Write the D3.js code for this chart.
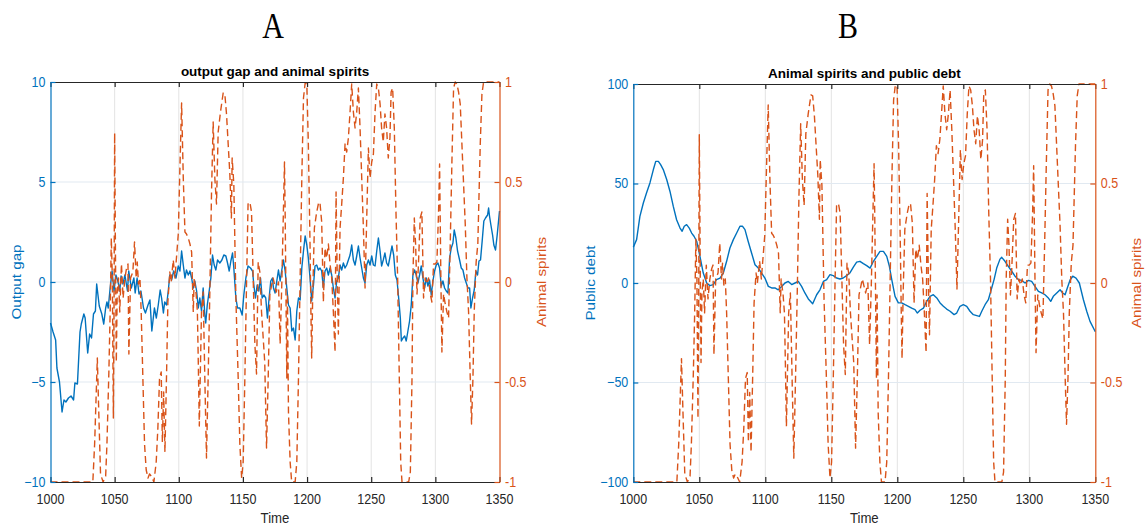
<!DOCTYPE html>
<html>
<head>
<meta charset="utf-8">
<script src="https://cdn.jsdelivr.net/npm/d3@7"></script>
<style>
  body { margin: 0; background: #fff; }
  svg { display: block; }
</style>
</head>
<body>
<svg id="chart" width="1146" height="525"></svg>
<script>
// ---- data -------------------------------------------------------------
const timeTicks = [1000, 1050, 1100, 1150, 1200, 1250, 1300, 1350];
const gapTicks = [-10, -5, 0, 5, 10];
const debtTicks = [-100, -50, 0, 50, 100];
const spiritTicks = [-1, -0.5, 0, 0.5, 1];
const spiritTickLabels = ["-1", "-0.5", "0", "0.5", "1"];

// [time, output gap]
const outputGap = [
  [1000,-2.05],[1002,-2.5],[1004,-2.9],[1005,-4.3],[1007,-5.0],[1009,-6.5],[1010.5,-5.9],[1012,-6.0],
  [1014,-5.8],[1016,-5.7],[1018,-5.9],[1019,-5.05],[1021,-5.1],[1023,-2.5],[1024,-2.1],[1026,-1.6],
  [1027,-1.8],[1029,-3.55],[1030.5,-2.6],[1032,-2.8],[1033.5,-1.6],[1035,-1.45],[1036,-0.1],[1038,-1.2],
  [1040,-1.6],[1041.5,-2.1],[1043,-1.3],[1044,-1.0],[1045,-1.3],[1046.5,-0.3],[1048,0.55],[1049.5,-0.45],
  [1051,0.35],[1052.5,0.05],[1054,-0.45],[1055,0.3],[1056.5,-0.1],[1058,0.35],[1060,-0.45],[1061,0.55],
  [1063,-0.3],[1065,0.2],[1066,-0.55],[1067.5,0.2],[1069,-0.6],[1070.5,-0.45],[1072.5,-1.3],[1074,-1.55],
  [1076,-1.15],[1077.5,-0.9],[1079,-2.45],[1081,-1.3],[1082.5,-1.8],[1084,-1.15],[1085.5,-0.4],[1086.6,-0.8],
  [1088,-1.55],[1089,-1.0],[1090.5,-1.15],[1091.8,-0.45],[1093,0.35],[1094.4,0.1],[1096,0.55],[1097.8,0.2],
  [1099.6,0.8],[1100.9,0.55],[1102.2,1.55],[1103.5,0.85],[1104.8,0.2],[1106,0.6],[1107.4,0.35],[1108.7,0.55],
  [1110,0.2],[1111.3,-0.3],[1112.5,0.05],[1113.9,-0.45],[1115.2,-1.3],[1116.4,-0.8],[1117.7,-1.45],[1119,-0.3],
  [1120.3,-1.65],[1121,-2.05],[1122.2,-1.15],[1123.7,-0.45],[1125,0.2],[1126.3,1.35],[1127.6,0.85],[1128.9,0.6],
  [1130.2,1.1],[1132,0.95],[1133.6,1.1],[1135.1,1.35],[1136.7,1.3],[1138,0.95],[1139.3,0.55],[1140.6,1.05],
  [1141.9,1.45],[1142.9,0.7],[1144.5,-0.8],[1145.8,-1.3],[1147.6,-1.3],[1149.4,-1.65],[1150.7,-0.65],[1152.3,0.2],
  [1154,0.8],[1155.9,0.7],[1157.5,0.55],[1158.5,-0.15],[1159.8,-0.8],[1161.1,-0.15],[1162.4,-0.45],[1163.7,0.2],
  [1165,-0.8],[1166.3,-0.65],[1167.8,-0.8],[1169.1,-1.8],[1170.4,-0.8],[1171.7,0.05],[1173,0.2],[1173.8,-0.3],
  [1175.1,-0.55],[1176.4,0.05],[1177.7,0.6],[1179,0.05],[1180.3,0.6],[1181.6,1.1],[1182.9,0.55],[1184.2,-0.3],
  [1185.5,-1.15],[1186.8,-1.3],[1188.1,-2.45],[1189.4,-2.3],[1190.7,-2.9],[1192,-1.45],[1193.3,-0.8],[1194.6,-0.9],
  [1195.9,0.7],[1197.2,1.55],[1198.5,2.3],[1199.8,1.85],[1201,1.2],[1202.3,0.2],[1203.6,-0.95],[1205,-0.15],
  [1206.2,0.8],[1207.5,0.85],[1208.8,0.6],[1210.1,0.7],[1211.4,0.55],[1212.7,-0.3],[1214,0.55],[1215.3,0.7],
  [1216.6,0.35],[1217.9,0.7],[1219.2,0.35],[1220.5,-0.3],[1221.8,-0.8],[1223.1,0.05],[1224.4,0.2],[1225.7,0.85],
  [1227,0.6],[1228.3,0.95],[1229.6,0.7],[1230.9,0.85],[1232.2,1.1],[1233.5,1.35],[1234.8,1.85],[1236.1,1.1],
  [1237.4,0.85],[1238.7,1.3],[1240,1.8],[1241.3,1.2],[1242.6,0.7],[1243.9,0.2],[1245.2,-0.05],[1246.5,0.85],
  [1247.8,1.1],[1249.1,0.85],[1250.4,1.3],[1251.7,0.85],[1253,0.8],[1254.3,1.55],[1255.6,2.2],[1256.9,1.55],
  [1258.1,0.8],[1259.4,1.1],[1260.7,1.45],[1262,0.95],[1263.3,0.8],[1264.9,1.35],[1266.2,1.8],[1267.5,1.35],
  [1268.8,0.35],[1270.1,0.1],[1271.4,-0.8],[1272.7,-1.8],[1273.5,-2.95],[1274.8,-2.8],[1276.1,-2.7],[1277.3,-2.95],
  [1278.6,-2.45],[1279.9,-1.95],[1281.2,-1.15],[1282.5,0.35],[1283.8,0.6],[1285.1,0.35],[1286.4,-0.05],[1287.7,0.35],
  [1289,0.8],[1290.3,0.2],[1291.6,-0.3],[1292.9,0.2],[1294.2,-0.2],[1295.5,0.1],[1296.8,-0.65],[1298.1,0.05],
  [1299.4,0.55],[1300.7,0.85],[1302,0.95],[1303.3,0.7],[1304.6,-0.2],[1305.9,0.05],[1307.2,-0.3],[1308.5,-0.45],
  [1309.8,-0.55],[1311.1,1.2],[1312.4,1.7],[1313.7,1.95],[1314.7,2.6],[1316,2.2],[1317.3,1.55],[1318.9,1.1],
  [1320.2,0.7],[1321.5,0.6],[1322.8,0.2],[1324.1,-0.05],[1325.4,-0.3],[1326.7,-0.3],[1327.7,-1.3],[1329,-0.8],
  [1330.3,-0.4],[1331.6,0.55],[1332.9,0.35],[1334,1.05],[1335.2,1.1],[1336.5,2.05],[1337.8,3.05],[1339.1,3.2],
  [1340.7,3.35],[1341.5,3.7],[1342.2,3.3],[1343.3,2.85],[1344.6,2.35],[1345.6,1.85],[1346.9,1.6],[1348.2,2.35],
  [1350,3.55]
];

// [time, public debt]
const publicDebt = [
  [1000,18],[1002.5,21.8],[1005,33.5],[1007.6,40.2],[1010,45.2],[1012.6,50.3],[1015.2,57],[1017,61.1],
  [1019,61.1],[1020.7,59.5],[1022.7,57],[1025.3,52],[1027.8,46],[1030.3,38.5],[1032.8,31.8],[1035.4,27.6],
  [1037,26],[1038.6,28.5],[1040.4,29.3],[1042.4,27.6],[1044.2,25.1],[1046,23.5],[1048,21],[1050.5,13.4],
  [1053,5],[1055.6,0],[1058,-1.3],[1060.6,-0.8],[1063,1.7],[1065.7,2.5],[1068.2,5],[1070.7,10.9],
  [1073.2,17.6],[1075.8,21.8],[1078.3,25.1],[1080.8,28.5],[1082.8,28.5],[1084.6,26.8],[1087,21],[1089.6,15.1],
  [1092.2,9.2],[1094.7,7.5],[1097.2,5],[1099.7,2.5],[1102.3,-1.7],[1104.8,-2.5],[1107.3,-2.5],[1109.8,-3.4],
  [1112.4,-1.7],[1114.9,0],[1117.4,0.8],[1120,-0.8],[1122.5,0],[1125,0.8],[1127.5,-1.7],[1130,-5],
  [1132.6,-8],[1135.9,-10.4],[1138.9,-5.9],[1141.4,-3.4],[1144,0.8],[1146.5,1.7],[1149,4.2],[1151.5,3.7],
  [1154,2.5],[1156.6,2],[1159,2.5],[1161.6,3.7],[1164,5],[1166.7,8],[1169.2,10.5],[1171.7,10.9],
  [1174.3,9.7],[1176.8,8.7],[1179.4,7.5],[1181.9,10.9],[1184.4,13.4],[1186.9,15.9],[1189.5,15.9],[1192,13.4],
  [1194,8.4],[1195.8,1.7],[1198.3,-6.7],[1200.8,-10],[1203.3,-10],[1205.9,-10.9],[1208.4,-11.7],[1210.9,-12.6],
  [1213.4,-13.4],[1215.2,-15.1],[1217.2,-13.7],[1219.8,-12.6],[1222.3,-9.2],[1224.8,-6.7],[1227.3,-5.9],[1229.9,-7.5],
  [1232.4,-10],[1234.9,-11.7],[1237.4,-13.1],[1240,-14.2],[1243,-15.9],[1245,-15.1],[1247.5,-11.7],[1250,-10.9],
  [1252.6,-11.7],[1255.1,-14.2],[1257.6,-15.9],[1260.2,-16.4],[1262.2,-16.8],[1264,-14.2],[1266.5,-10.9],[1269,-8.4],
  [1271.5,-2.5],[1273.3,1.7],[1275.3,7.5],[1277.8,12],[1279.1,12.9],[1281.6,10.9],[1284.1,8.4],[1286.7,5.9],
  [1289.2,3.4],[1291.7,1.7],[1294.2,1.3],[1296.8,0],[1299.3,1.3],[1301.8,0.8],[1304.3,-1.7],[1306.9,-4.2],
  [1309.4,-5],[1311.9,-5.9],[1314.4,-7.5],[1316.2,-9.2],[1318.2,-6.7],[1320.8,-5],[1323.3,-3.4],[1325.3,-5],
  [1327.1,-5.9],[1328.8,-2.5],[1330.9,1.5],[1332.9,3.4],[1335.4,2.5],[1337.9,0],[1341,-8.4],[1343.5,-14.2],
  [1346,-19.3],[1350,-24.5]
];

// [time, animal spirits] (shared by both panels)
const animalSpirits = [
  [1000,-1],[1033,-1],[1034.4,-0.81],[1036.5,-0.38],[1037.5,-0.62],[1039,-0.96],[1041,-1],[1043,-0.97],
  [1044,-0.81],[1045.5,-0.45],[1046.5,-0.15],[1047.4,0.22],[1048.2,0.02],[1049,-0.68],[1049.5,-0.15],[1050,0.745],
  [1050.6,0.18],[1051.3,-0.4],[1052,-0.05],[1053,0.02],[1054,-0.15],[1055.3,0.09],[1056.6,-0.08],[1058,0.02],
  [1059.3,0.07],[1060.4,0.09],[1061.1,-0.36],[1062.4,0.02],[1064.2,0.05],[1065.5,0.2],[1066.8,0.02],[1067.6,0.1],
  [1068.6,-0.01],[1069.7,0.02],[1070.7,-0.15],[1072,-0.48],[1073.3,-0.81],[1074.6,-0.94],[1076,-0.98],[1077.2,-0.96],
  [1078.5,-0.97],[1080.6,-1],[1082.4,-0.9],[1083.7,-0.73],[1085,-0.48],[1086.3,-0.45],[1087.2,-0.8],[1088.2,-0.55],
  [1089.2,-0.85],[1090.5,-0.45],[1091.5,-0.1],[1093,0.05],[1094,0.0],[1095.7,0.11],[1097,0.02],[1099.6,0.24],
  [1101,0.6],[1102.2,0.895],[1103.5,0.52],[1104.8,0.25],[1106,0.24],[1107.4,0.22],[1108.7,0.19],[1110,0.15],
  [1111.3,-0.15],[1112,0.02],[1113.5,-0.06],[1114.5,-0.15],[1115.2,-0.4],[1116,-0.72],[1117.7,-0.15],[1119,-0.05],
  [1120.3,-0.48],[1121.6,-0.88],[1122.9,-0.48],[1124.2,-0.05],[1125.5,0.44],[1126.8,0.8],[1128.1,0.52],[1129.4,0.39],
  [1130.7,0.75],[1132.5,0.85],[1134.6,0.945],[1135.9,0.94],[1137.2,0.84],[1138.5,0.69],[1139.8,0.54],[1141,0.32],
  [1141.6,0.62],[1142.9,0.49],[1144.5,-0.08],[1146.3,-0.48],[1147.6,-0.81],[1149,-0.98],[1150.2,-0.9],[1151.5,-0.48],
  [1152.8,-0.01],[1154,0.39],[1155.4,0.4],[1156.7,0.35],[1158,0.02],[1159.3,-0.31],[1160.6,-0.46],[1161.9,0.1],
  [1163.2,0.05],[1164.5,-0.15],[1167,-0.4],[1168.4,-0.83],[1169.7,-0.48],[1171,-0.06],[1173.5,0.02],[1176,-0.05],
  [1177.7,0.0],[1179,-0.31],[1180.3,-0.01],[1182.4,0.6],[1182.9,0.35],[1184.2,-0.48],[1184.7,-0.06],[1185.5,-0.65],
  [1186.8,-0.9],[1188,-1],[1190.7,-1],[1192,-0.9],[1193.3,-0.48],[1194.6,0.02],[1195.9,0.52],[1197.2,0.92],
  [1198.5,0.995],[1199.8,0.99],[1201,0.69],[1202.3,0.19],[1203,-0.15],[1203.6,-0.38],[1204.4,-0.06],[1205.7,0.27],
  [1207.5,0.35],[1208.8,0.39],[1210,0.4],[1211.4,0.3],[1212.7,-0.1],[1214,0.17],[1215.3,0.12],[1216.6,0.19],
  [1217.9,0.09],[1219.2,0.02],[1220.5,-0.15],[1221.8,-0.35],[1222.6,0.45],[1223.6,-0.01],[1224.4,-0.26],[1225.7,0.27],
  [1227,0.39],[1228.3,0.52],[1229.6,0.69],[1230.9,0.65],[1232.2,0.72],[1233.5,0.85],[1234.8,0.99],[1236.1,0.85],
  [1237.4,0.77],[1238.7,0.85],[1240,0.97],[1241.3,0.77],[1242.6,0.52],[1243.9,0.27],[1245.2,-0.03],[1246.5,0.32],
  [1247.8,0.67],[1249.1,0.52],[1250.4,0.6],[1251.7,0.64],[1253,0.85],[1254.3,0.99],[1255.6,0.97],[1256.9,0.89],
  [1258.1,0.77],[1259.4,0.7],[1260.7,0.84],[1262,0.77],[1263.3,0.62],[1264.6,0.72],[1265.5,0.95],[1266.7,0.97],
  [1268,0.77],[1269.3,0.35],[1270.6,0.02],[1271.9,-0.48],[1273,-0.9],[1274,-1],[1279.2,-1],[1280.5,-0.95],
  [1281.8,-0.48],[1282.5,0.02],[1283.6,0.32],[1284.6,0.19],[1285.7,-0.06],[1286.7,0.07],[1288.2,0.32],[1289.5,0.35],
  [1290.8,-0.08],[1292.1,0.02],[1293.4,-0.01],[1294.7,0.02],[1296,-0.06],[1297.3,-0.1],[1298.6,0.09],[1299.9,0.09],
  [1301.2,0.1],[1302.5,0.35],[1303.3,0.59],[1304.3,0.02],[1305.1,-0.35],[1306.4,-0.06],[1307.7,-0.11],[1309,-0.15],
  [1310.3,-0.18],[1311.6,0.19],[1312.9,0.6],[1314.2,0.97],[1315.5,1],[1316.8,0.99],[1318.1,0.95],[1319.4,0.89],
  [1320.7,0.69],[1322,0.49],[1323.3,0.29],[1324.6,0.02],[1325.9,-0.15],[1327.2,-0.48],[1328.2,-0.71],[1329.3,-0.48],
  [1330.3,-0.15],[1331.8,0.1],[1333.1,0.19],[1335,0.69],[1336.3,0.94],[1337.6,1],[1350,1]
];

// ---- drawing ----------------------------------------------------------
const BLUE = "#0072BD", ORANGE = "#D95319", INK = "#262626";
const SANS = "'Liberation Sans', Arial, Helvetica, sans-serif";
const SERIF = "'Liberation Serif', 'Times New Roman', serif";
const STRETCH = 1.12;   // glyphs are set slightly taller than wide
const svg = d3.select("#chart");

// text placed at (x, y), stretched vertically, optionally rotated
function addText(parent, x, y, str, o) {
  const t = parent.append("text")
    .attr("transform", `translate(${x},${y}) scale(1,${o.stretch || STRETCH})` + (o.rotate ? ` rotate(${o.rotate})` : ""))
    .attr("text-anchor", o.anchor || "middle")
    .attr("fill", o.color || "#000")
    .style("font-family", o.family || SANS)
    .style("font-size", o.size + "px")
    .style("font-weight", o.weight || "normal")
    .text(str);
  if (o.dy) t.attr("dy", o.dy);
  return t;
}

function drawPanel(p) {
  const g = svg.append("g");
  const x = d3.scaleLinear().domain([1000, 1350]).range([p.left, p.right]);
  const yL = d3.scaleLinear().domain(d3.extent(p.leftTicks)).range([p.bottom, p.top]);
  const yR = d3.scaleLinear().domain([-1, 1]).range([p.bottom, p.top]);

  // grid
  g.append("g").selectAll("line").data(timeTicks.slice(1, -1)).join("line")
    .attr("x1", d => x(d)).attr("x2", d => x(d))
    .attr("y1", p.top).attr("y2", p.bottom)
    .attr("stroke", "#e3e3e3").attr("stroke-width", 1);
  g.append("g").selectAll("line").data(p.leftTicks.slice(1, -1)).join("line")
    .attr("x1", p.left).attr("x2", p.right)
    .attr("y1", d => yL(d)).attr("y2", d => yL(d))
    .attr("stroke", "#e1e9f1").attr("stroke-width", 1);

  // series
  g.append("path").datum(p.leftData)
    .attr("d", d3.line().x(d => x(d[0])).y(d => yL(d[1])))
    .attr("fill", "none").attr("stroke", BLUE).attr("stroke-width", 1.4)
    .attr("stroke-linejoin", "round");
  g.append("path").datum(animalSpirits)
    .attr("d", d3.line().x(d => x(d[0])).y(d => yR(d[1])))
    .attr("fill", "none").attr("stroke", ORANGE).attr("stroke-width", 1.4)
    .attr("stroke-dasharray", "7,4").attr("stroke-linejoin", "round");

  // axis lines and inward ticks
  const styleAxis = (sel, color) => {
    sel.select(".domain").attr("stroke", color).attr("stroke-width", 1.2);
    sel.selectAll(".tick line").attr("stroke", color).attr("stroke-width", 1.2);
    sel.selectAll(".tick text").remove();
  };
  g.append("g").attr("transform", `translate(0,${p.top})`)
    .call(d3.axisTop(x).tickValues(timeTicks).tickSize(-5).tickSizeOuter(0))
    .call(s => styleAxis(s, INK));
  g.append("g").attr("transform", `translate(0,${p.bottom})`)
    .call(d3.axisBottom(x).tickValues(timeTicks).tickSize(-5).tickSizeOuter(0))
    .call(s => styleAxis(s, INK));
  g.append("g").attr("transform", `translate(${p.left},0)`)
    .call(d3.axisLeft(yL).tickValues(p.leftTicks).tickSize(-5).tickSizeOuter(0))
    .call(s => styleAxis(s, BLUE));
  g.append("g").attr("transform", `translate(${p.right},0)`)
    .call(d3.axisRight(yR).tickValues(spiritTicks).tickSize(-5).tickSizeOuter(0))
    .call(s => styleAxis(s, ORANGE));

  // tick labels
  const fmt = d3.format("d");
  timeTicks.forEach(t => addText(g, x(t), p.bottom + 22, fmt(t), { size: 12.5, color: INK }));
  p.leftTicks.forEach(v => addText(g, p.left - 5, yL(v), fmt(v), { size: 12.5, color: BLUE, anchor: "end", dy: "0.35em" }));
  spiritTicks.forEach((v, i) => addText(g, p.right + 5.5, yR(v), spiritTickLabels[i], { size: 12.5, color: ORANGE, anchor: "start", dy: "0.35em" }));

  // titles and labels
  const cx = (p.left + p.right) / 2, cy = (p.top + p.bottom) / 2;
  addText(g, p.letterX, 38, p.letter, { size: 30, family: SERIF, stretch: 1.2 });
  addText(g, cx, p.top - 6.5, p.title, { size: 13.5, weight: "bold", stretch: 1.0 });
  addText(g, cx, 523, "Time", { size: 13.2, color: INK });
  // rotated labels: the stretch runs along the text, so swap it into the x direction
  svg.append("text")
    .attr("transform", `translate(${p.leftLabelX},${cy}) scale(1,1.15) rotate(-90)`)
    .attr("text-anchor", "middle").attr("fill", BLUE)
    .style("font-family", SANS).style("font-size", "13.2px").text(p.leftLabel);
  svg.append("text")
    .attr("transform", `translate(${p.right + 46},${cy}) scale(1,1.15) rotate(-90)`)
    .attr("text-anchor", "middle").attr("fill", ORANGE)
    .style("font-family", SANS).style("font-size", "13.2px").text("Animal spirits");
}

drawPanel({
  left: 50.5, right: 499.5, top: 82, bottom: 482,
  leftTicks: gapTicks, leftData: outputGap,
  title: "output gap and animal spirits", leftLabel: "Output gap", leftLabelX: 20.5,
  letter: "A", letterX: 273
});
drawPanel({
  left: 633.3, right: 1095.3, top: 84, bottom: 482,
  leftTicks: debtTicks, leftData: publicDebt,
  title: "Animal spirits and public debt", leftLabel: "Public debt", leftLabelX: 595,
  letter: "B", letterX: 848
});
</script>
</body>
</html>
